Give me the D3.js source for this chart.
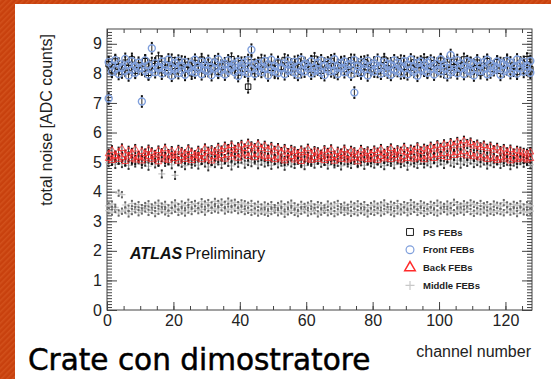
<!DOCTYPE html>
<html>
<head>
<meta charset="utf-8">
<script src="https://cdn.jsdelivr.net/npm/d3@7"></script>
<style>
  body { margin: 0; background: #fff; }
  svg { display: block; }
</style>
</head>
<body>
<div id="chart"></div>
<script>
// channel values, one array per FEB group
const psFebs = [
  8.31,8.12,8.40,8.22,8.05,8.36,8.18,8.47,8.09,8.28,8.15,8.41,8.02,8.33,8.24,8.50,
  8.11,8.30,8.19,8.44,8.07,8.26,8.38,8.13,8.29,8.01,8.35,8.20,8.46,8.10,8.27,8.17,
  8.39,8.06,8.23,8.32,8.14,8.48,8.21,8.03,8.34,8.16,7.55,8.37,8.08,8.25,8.43,8.12,
  8.30,8.19,8.04,8.36,8.22,8.45,8.11,8.28,8.17,8.40,8.06,8.33,8.24,8.13,8.49,8.20,
  8.09,8.31,8.18,8.42,8.05,8.27,8.36,8.15,8.23,8.44,8.10,8.29,8.02,8.38,8.21,8.14,
  8.35,8.07,8.26,8.46,8.17,8.32,8.11,8.24,8.41,8.04,8.30,8.19,8.37,8.12,8.28,8.45,
  8.08,8.23,8.34,8.16,8.43,8.06,8.29,8.20,8.39,8.13,8.25,8.47,8.10,8.32,8.18,8.36,
  8.03,8.27,8.41,8.15,8.22,8.38,8.09,8.31,8.44,8.17,8.26,8.05,8.35,8.21,8.48,8.14
];
const frontFebsA = [
  8.38,8.27,8.45,8.33,8.21,8.49,8.30,8.41,8.25,8.36,8.19,8.44,8.28,8.85,8.34,8.23,
  8.40,8.29,8.47,8.20,8.35,8.43,8.26,8.38,8.17,8.32,8.46,8.24,8.39,8.30,8.42,8.21,
  8.36,8.48,8.27,8.33,8.44,8.22,8.31,8.40,8.26,8.37,8.45,8.80,8.29,8.35,8.23,8.42,
  8.31,8.46,8.25,8.38,8.20,8.34,8.43,8.28,8.39,8.24,8.47,8.32,8.27,8.41,8.19,8.36,
  8.44,8.26,8.37,8.30,8.48,8.22,8.35,8.40,8.29,8.33,8.45,8.24,8.38,8.31,8.43,8.27,
  8.34,8.46,8.21,8.39,8.32,8.28,8.44,8.36,8.25,8.41,8.30,8.47,8.23,8.35,8.40,8.29,
  8.37,8.43,8.26,8.33,8.48,8.31,8.39,8.62,8.28,8.45,8.34,8.22,8.41,8.36,8.30,8.44,
  8.27,8.38,8.46,8.32,8.24,8.40,8.35,8.29,8.43,8.37,8.21,8.47,8.33,8.39,8.26,8.42
];
const frontFebsB = [
  7.15,8.05,8.14,7.98,8.18,8.09,7.93,8.12,8.02,8.16,7.05,8.08,7.96,8.13,8.04,8.17,
  7.99,8.11,8.06,7.92,8.15,8.01,8.10,7.95,8.19,8.07,8.03,8.14,7.97,8.12,8.08,7.94,
  8.16,8.02,8.11,7.96,8.09,8.18,8.04,7.91,8.13,8.06,8.00,8.15,7.98,8.10,8.05,8.17,
  7.93,8.12,8.07,8.01,8.16,7.97,8.09,8.14,8.03,7.95,8.11,8.06,8.18,7.99,8.08,8.13,
  8.02,7.94,8.15,8.07,8.10,7.98,8.17,8.04,8.12,7.96,7.35,8.09,8.01,8.14,7.93,8.11,
  8.06,8.16,7.99,8.10,8.03,7.95,8.13,8.08,8.00,8.17,7.97,8.12,8.05,7.92,8.15,8.09,
  8.02,8.14,7.96,8.11,8.07,8.18,7.94,8.04,8.13,8.00,8.16,7.98,8.10,8.06,7.93,8.12,
  8.08,8.15,7.97,8.03,8.11,8.19,7.95,8.07,8.14,8.01,8.09,7.99,8.16,8.05,8.12,8.02
];
const backFebsA = [
  5.28,5.40,5.22,5.35,5.46,5.25,5.38,5.31,5.44,5.20,5.36,5.29,5.42,5.33,5.24,5.39,
  5.30,5.45,5.27,5.37,5.21,5.41,5.34,5.26,5.43,5.32,5.23,5.38,5.29,5.46,5.35,5.40,
  5.33,5.48,5.39,5.52,5.44,5.56,5.41,5.50,5.58,5.46,5.62,5.53,5.47,5.60,5.45,5.55,
  5.42,5.51,5.38,5.47,5.34,5.44,5.30,5.41,5.36,5.27,5.39,5.32,5.45,5.28,5.37,5.33,
  5.25,5.40,5.31,5.43,5.22,5.35,5.29,5.42,5.26,5.38,5.33,5.24,5.41,5.30,5.36,5.27,
  5.39,5.32,5.44,5.28,5.37,5.46,5.31,5.40,5.35,5.48,5.33,5.42,5.38,5.50,5.36,5.45,
  5.41,5.52,5.44,5.57,5.48,5.60,5.51,5.64,5.55,5.68,5.58,5.72,5.61,5.66,5.54,5.59,
  5.50,5.56,5.45,5.52,5.40,5.48,5.37,5.44,5.33,5.42,5.29,5.38,5.35,5.31,5.28,5.34
];
const backFebsB = [
  5.12,5.05,5.18,5.09,5.15,5.02,5.20,5.11,5.07,5.16,5.04,5.13,5.19,5.08,5.14,5.01,
  5.17,5.10,5.06,5.21,5.12,5.03,5.15,5.09,5.18,5.05,5.13,5.20,5.08,5.16,5.11,5.04,
  5.19,5.14,5.22,5.10,5.25,5.17,5.28,5.13,5.24,5.30,5.19,5.27,5.15,5.26,5.21,5.18,
  5.12,5.20,5.08,5.16,5.11,5.04,5.14,5.19,5.07,5.13,5.02,5.17,5.10,5.06,5.15,5.09,
  5.18,5.05,5.12,5.16,5.03,5.14,5.09,5.20,5.07,5.11,5.15,5.01,5.13,5.17,5.08,5.10,
  5.14,5.06,5.19,5.11,5.16,5.09,5.22,5.13,5.07,5.18,5.12,5.24,5.10,5.15,5.20,5.08,
  5.17,5.23,5.12,5.26,5.19,5.29,5.15,5.31,5.22,5.33,5.25,5.36,5.21,5.28,5.18,5.24,
  5.14,5.21,5.09,5.17,5.12,5.06,5.15,5.10,5.18,5.04,5.13,5.08,5.16,5.11,5.07,5.12
];
const middleFebsA = [
  4.98,5.03,4.92,5.06,4.95,5.01,4.89,5.04,4.97,5.08,4.93,5.00,4.86,5.05,4.94,5.02,
  4.60,4.99,5.07,4.91,4.55,5.03,4.96,4.88,5.05,4.93,5.00,4.90,5.06,4.97,4.84,5.02,
  4.95,5.04,4.92,5.08,4.99,4.87,5.05,4.96,5.10,4.93,5.02,4.98,5.07,4.91,5.03,4.97,
  5.01,4.89,5.05,4.94,5.00,4.86,5.04,4.97,4.92,5.06,4.95,4.88,5.03,4.99,4.93,5.07,
  4.96,5.02,4.90,5.05,4.94,4.99,4.87,5.04,4.97,4.92,5.06,4.95,5.01,4.89,5.03,4.98,
  4.93,5.05,4.96,4.88,5.02,4.99,4.91,5.07,4.95,5.00,4.86,5.04,4.97,4.92,5.06,4.94,
  5.01,4.95,5.08,4.98,5.04,4.92,5.10,5.00,4.96,5.06,4.93,5.03,4.99,5.07,4.95,5.02,
  4.97,5.04,4.90,5.01,4.95,5.06,4.92,4.99,5.03,4.88,5.00,4.94,5.05,4.96,5.02,4.91
];
const middleFebsB = [
  3.52,3.58,3.47,3.95,3.90,3.55,3.44,3.60,3.50,3.56,3.46,3.53,3.59,3.48,3.54,3.61,
  3.51,3.57,3.45,3.55,3.62,3.49,3.58,3.53,3.64,3.56,3.60,3.52,3.66,3.58,3.63,3.55,
  3.67,3.60,3.65,3.57,3.68,3.61,3.64,3.56,3.62,3.59,3.54,3.60,3.51,3.57,3.48,3.55,
  3.50,3.56,3.46,3.53,3.58,3.49,3.55,3.61,3.52,3.47,3.57,3.50,3.54,3.59,3.48,3.56,
  3.53,3.45,3.58,3.51,3.55,3.60,3.49,3.54,3.47,3.57,3.52,3.59,3.50,3.56,3.46,3.53,
  3.58,3.51,3.55,3.62,3.49,3.57,3.53,3.60,3.48,3.56,3.52,3.63,3.55,3.50,3.59,3.54,
  3.49,3.57,3.53,3.61,3.55,3.50,3.58,3.52,3.64,3.56,3.51,3.59,3.54,3.62,3.57,3.53,
  3.60,3.52,3.56,3.49,3.58,3.54,3.51,3.63,3.55,3.50,3.57,3.53,3.59,3.48,3.56,3.52
];
const middleFebsC = [
  3.36,3.31,3.40,3.28,3.34,3.38,3.25,3.33,3.39,3.29,3.35,3.42,3.30,3.37,3.26,3.34,
  3.39,3.32,3.27,3.36,3.41,3.30,3.35,3.28,3.38,3.33,3.43,3.36,3.40,3.31,3.44,3.37,
  3.42,3.38,3.46,3.35,3.41,3.39,3.44,3.36,3.40,3.33,3.37,3.30,3.35,3.28,3.34,3.31,
  3.27,3.33,3.38,3.29,3.35,3.24,3.32,3.37,3.30,3.26,3.34,3.39,3.28,3.33,3.36,3.25,
  3.31,3.37,3.29,3.34,3.26,3.32,3.38,3.30,3.35,3.27,3.33,3.29,3.36,3.31,3.25,3.34,
  3.30,3.36,3.28,3.33,3.39,3.31,3.26,3.35,3.32,3.38,3.29,3.34,3.40,3.30,3.36,3.27,
  3.33,3.37,3.31,3.28,3.35,3.40,3.32,3.36,3.29,3.34,3.38,3.31,3.41,3.33,3.27,3.35,
  3.32,3.38,3.28,3.34,3.30,3.36,3.33,3.29,3.39,3.31,3.35,3.26,3.37,3.32,3.30,3.34
];

const xTicks = [0, 20, 40, 60, 80, 100, 120];
const yTicks = [0, 1, 2, 3, 4, 5, 6, 7, 8, 9];
const legendLabels = ["PS FEBs", "Front FEBs", "Back FEBs", "Middle FEBs"];

const W = 551, H = 379;
const frame = { left: 107, right: 532, top: 29, bottom: 310 };

const svg = d3.select("#chart")
  .append("svg")
  .attr("width", W)
  .attr("height", H);

// orange slide border (top and left strips)
const defs = svg.append("defs");
const pat = defs.append("pattern")
  .attr("id", "stripes")
  .attr("width", 4).attr("height", 4)
  .attr("patternUnits", "userSpaceOnUse")
  .attr("patternTransform", "rotate(45)");
pat.append("rect").attr("width", 4).attr("height", 4).attr("fill", "#c8410e");
pat.append("rect").attr("width", 1.5).attr("height", 4).attr("fill", "#d2511c");

svg.append("rect").attr("x", 0).attr("y", 0).attr("width", W).attr("height", H).attr("fill", "url(#stripes)");
svg.append("rect").attr("x", 15).attr("y", 4).attr("width", W - 15).attr("height", H - 4).attr("fill", "#fff");

const x = d3.scaleLinear().domain([0, 128]).range([frame.left, frame.right]);
const y = d3.scaleLinear().domain([0, 9.5]).range([frame.bottom, frame.top]);

const axisColor = "#444";
const tickFont = "Liberation Sans, Arial, Helvetica, sans-serif";

function styleAxis(g) {
  g.select(".domain").remove();
  g.selectAll("line").attr("stroke", axisColor);
  g.selectAll("text")
    .style("font-family", tickFont)
    .style("font-size", "16px")
    .attr("fill", "#222");
}

const xMinor = d3.range(0, 128, 5);
const yMinor = d3.range(0, 95).map(i => i / 10);

// bottom axis
svg.append("g").attr("transform", `translate(0,${frame.bottom})`)
  .call(d3.axisBottom(x).tickValues(xMinor).tickSize(-4).tickFormat(""))
  .call(styleAxis);
svg.append("g").attr("transform", `translate(0,${frame.bottom})`)
  .call(d3.axisBottom(x).tickValues(xTicks).tickSizeInner(-8).tickSizeOuter(0).tickPadding(5).tickFormat(d3.format("d")))
  .call(styleAxis);
// top axis (mirror)
svg.append("g").attr("transform", `translate(0,${frame.top})`)
  .call(d3.axisTop(x).tickValues(xMinor).tickSize(-4).tickFormat(""))
  .call(styleAxis);
svg.append("g").attr("transform", `translate(0,${frame.top})`)
  .call(d3.axisTop(x).tickValues(xTicks).tickSize(-8).tickFormat(""))
  .call(styleAxis);
// left axis
svg.append("g").attr("transform", `translate(${frame.left},0)`)
  .call(d3.axisLeft(y).tickValues(yMinor).tickSize(-5).tickFormat(""))
  .call(styleAxis);
svg.append("g").attr("transform", `translate(${frame.left},0)`)
  .call(d3.axisLeft(y).tickValues(yTicks).tickSizeInner(-10).tickSizeOuter(0).tickPadding(5).tickFormat(d3.format("d")))
  .call(styleAxis);
// right axis (mirror)
svg.append("g").attr("transform", `translate(${frame.right},0)`)
  .call(d3.axisRight(y).tickValues(yMinor).tickSize(-5).tickFormat(""))
  .call(styleAxis);
svg.append("g").attr("transform", `translate(${frame.right},0)`)
  .call(d3.axisRight(y).tickValues(yTicks).tickSize(-10).tickFormat(""))
  .call(styleAxis);

// frame
svg.append("rect")
  .attr("x", frame.left).attr("y", frame.top)
  .attr("width", frame.right - frame.left).attr("height", frame.bottom - frame.top)
  .attr("fill", "none").attr("stroke", axisColor).attr("stroke-width", 1);

const plot = svg.append("g");

function errorBars(values, err, color, capColor) {
  const g = plot.append("g");
  g.selectAll("line").data(values).enter().append("line")
    .attr("x1", (d, i) => x(i + 0.5)).attr("x2", (d, i) => x(i + 0.5))
    .attr("y1", d => y(d - err)).attr("y2", d => y(d + err))
    .attr("stroke", color).attr("stroke-width", 1);
  g.selectAll("rect.capTop").data(values).enter().append("rect")
    .attr("x", (d, i) => x(i + 0.5) - 1).attr("y", d => y(d + err) - 1)
    .attr("width", 2).attr("height", 2).attr("fill", capColor);
  g.selectAll("rect.capBot").data(values).enter().append("rect")
    .attr("x", (d, i) => x(i + 0.5) - 1).attr("y", d => y(d - err) - 1)
    .attr("width", 2).attr("height", 2).attr("fill", capColor);
}

const circleColor = "#7f9fdc";
const triColor = "#ff2a2a";
const crossColor = "#c8c8c8";

function plusPath(s) {
  return `M${-s},0H${s}M0,${-s}V${s}`;
}
const symTypes = { square: d3.symbolSquare, circle: d3.symbolCircle, triangle: d3.symbolTriangle };

function markers(values, shape, size, stroke, width) {
  plot.append("g").selectAll("path").data(values).enter().append("path")
    .attr("transform", (d, i) => `translate(${x(i + 0.5)},${y(d)})`)
    .attr("d", shape === "cross" ? plusPath(size) : d3.symbol().type(symTypes[shape]).size(size)())
    .attr("fill", "none")
    .attr("stroke", stroke)
    .attr("stroke-width", width);
}

// lower band: middle FEBs
markers(middleFebsB, "cross", 3.5, crossColor, 1.2);
markers(middleFebsC, "cross", 3.5, crossColor, 1.2);
errorBars(middleFebsB, 0.09, "#c0c0c0", "#666");
errorBars(middleFebsC, 0.09, "#c0c0c0", "#666");

// middle band
markers(middleFebsA, "cross", 3.5, crossColor, 1.2);
errorBars(middleFebsA, 0.12, "#888", "#333");
errorBars(backFebsB, 0.14, "#333", "#111");
errorBars(backFebsA, 0.14, "#333", "#111");
markers(backFebsB, "triangle", 20, triColor, 0.8);
markers(backFebsA, "triangle", 20, triColor, 0.8);

// top band
errorBars(psFebs, 0.2, "#222", "#111");
errorBars(frontFebsB, 0.18, "#222", "#111");
errorBars(frontFebsA, 0.18, "#222", "#111");
markers(psFebs, "square", 30, "#111", 1);
markers(frontFebsB, "circle", 38, circleColor, 1.4);
markers(frontFebsA, "circle", 38, circleColor, 1.4);

// legend
const legendStyle = [
  { shape: "square", size: 48, stroke: "#222", w: 1 },
  { shape: "circle", size: 48, stroke: circleColor, w: 1.2 },
  { shape: "triangle", size: 48, stroke: triColor, w: 1.5 },
  { shape: "cross", size: 4.5, stroke: crossColor, w: 1.2 }
];
const leg = svg.append("g").selectAll("g").data(legendLabels).enter().append("g")
  .attr("transform", (d, i) => `translate(410,${232 + i * 17.8})`);
leg.append("path")
  .attr("d", (d, i) => {
    const s = legendStyle[i];
    return s.shape === "cross" ? plusPath(s.size) : d3.symbol().type(symTypes[s.shape]).size(s.size)();
  })
  .attr("fill", "none")
  .attr("stroke", (d, i) => legendStyle[i].stroke)
  .attr("stroke-width", (d, i) => legendStyle[i].w);
leg.append("text")
  .attr("x", 13).attr("y", 3.5)
  .style("font-family", tickFont)
  .style("font-size", "9.5px")
  .style("font-weight", "bold")
  .attr("fill", "#222")
  .text(d => d);

// ATLAS label
const atlas = svg.append("text")
  .attr("x", 130).attr("y", 259)
  .style("font-family", tickFont)
  .style("font-size", "16px")
  .attr("fill", "#111");
atlas.append("tspan").style("font-weight", "bold").style("font-style", "italic").text("ATLAS");
atlas.append("tspan").attr("dx", 3).text("Preliminary");

// axis titles
svg.append("text")
  .attr("transform", "translate(52,120) rotate(-90)")
  .attr("text-anchor", "middle")
  .style("font-family", tickFont)
  .style("font-size", "16px")
  .attr("fill", "#222")
  .text("total noise [ADC counts]");

svg.append("text")
  .attr("x", 531).attr("y", 357)
  .attr("text-anchor", "end")
  .style("font-family", tickFont)
  .style("font-size", "16px")
  .attr("fill", "#222")
  .text("channel number");

// slide caption
svg.append("text")
  .attr("x", 28).attr("y", 370)
  .style("font-family", "DejaVu Sans, Verdana, sans-serif")
  .style("font-size", "29.5px")
  .attr("fill", "#000")
  .attr("stroke", "#000")
  .attr("stroke-width", 0.5)
  .text("Crate con dimostratore");
</script>
</body>
</html>
